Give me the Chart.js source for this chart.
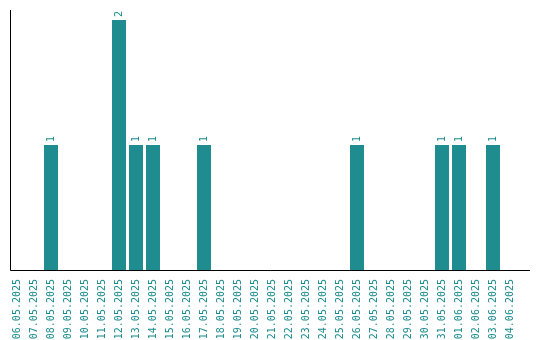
<!DOCTYPE html>
<html>
<head>
<meta charset="utf-8">
<script src="https://cdn.jsdelivr.net/npm/chart.js@4"></script>
<style>
  body { margin: 0; background: #fff; }
  canvas { display: block; }
</style>
</head>
<body>
<canvas id="grafico" width="540" height="340"></canvas>
<script>
// fechas y cantidades
const fechas = [
  "06.05.2025", "07.05.2025", "08.05.2025", "09.05.2025", "10.05.2025",
  "11.05.2025", "12.05.2025", "13.05.2025", "14.05.2025", "15.05.2025",
  "16.05.2025", "17.05.2025", "18.05.2025", "19.05.2025", "20.05.2025",
  "21.05.2025", "22.05.2025", "23.05.2025", "24.05.2025", "25.05.2025",
  "26.05.2025", "27.05.2025", "28.05.2025", "29.05.2025", "30.05.2025",
  "31.05.2025", "01.06.2025", "02.06.2025", "03.06.2025", "04.06.2025"
];
const cantidades = [
  0, 0, 1, 0, 0,
  0, 2, 1, 1, 0,
  0, 1, 0, 0, 0,
  0, 0, 0, 0, 0,
  1, 0, 0, 0, 0,
  1, 1, 0, 1, 0
];

const colorBarra = "#1f8c90";
const colorTexto = "#1a8a8c";
const fuente = { family: "DejaVu Sans Mono", size: 10 };

// valores encima de las barras (rotados) + ejes
const etiquetas = {
  id: "etiquetas",
  afterDatasetsDraw(chart) {
    const ctx = chart.ctx;
    const meta = chart.getDatasetMeta(0);
    ctx.save();
    ctx.fillStyle = colorTexto;
    ctx.font = `${fuente.size}px "${fuente.family}"`;
    ctx.textAlign = "left";
    ctx.textBaseline = "middle";
    meta.data.forEach((bar, i) => {
      if (!cantidades[i]) return;
      ctx.save();
      ctx.translate(bar.x, bar.y - 3);
      ctx.rotate(-Math.PI / 2);
      ctx.fillText(String(cantidades[i]), 0, 0);
      ctx.restore();
    });
    ctx.restore();
  },
  afterDraw(chart) {
    const { ctx, chartArea: a } = chart;
    ctx.save();
    ctx.strokeStyle = "#000";
    ctx.lineWidth = 1;
    ctx.beginPath();
    ctx.moveTo(a.left + 2, a.top);
    ctx.lineTo(a.left + 2, a.bottom + 0.5);
    ctx.lineTo(a.right + 11.5, a.bottom + 0.5);
    ctx.stroke();
    ctx.restore();
  }
};

new Chart(document.getElementById("grafico"), {
  type: "bar",
  data: {
    labels: fechas,
    datasets: [{
      data: cantidades,
      backgroundColor: colorBarra,
      barPercentage: 14 / 17,
      categoryPercentage: 1
    }]
  },
  options: {
    responsive: false,
    animation: false,
    devicePixelRatio: 1,
    layout: { padding: { left: 8.5, right: 21.5, top: 10, bottom: 0 } },
    plugins: { legend: { display: false }, tooltip: { enabled: false } },
    scales: {
      x: {
        grid: { display: false },
        border: { display: false },
        ticks: {
          color: colorTexto,
          font: fuente,
          minRotation: 90,
          maxRotation: 90,
          autoSkip: false,
          padding: 1
        },
        afterFit: (s) => { s.height = 70; }
      },
      y: {
        min: 0,
        max: 2.08,
        display: true,
        grid: { display: false },
        border: { display: false },
        ticks: { display: false },
        afterFit: (s) => { s.width = 0; }
      }
    }
  },
  plugins: [etiquetas]
});
</script>
</body>
</html>
